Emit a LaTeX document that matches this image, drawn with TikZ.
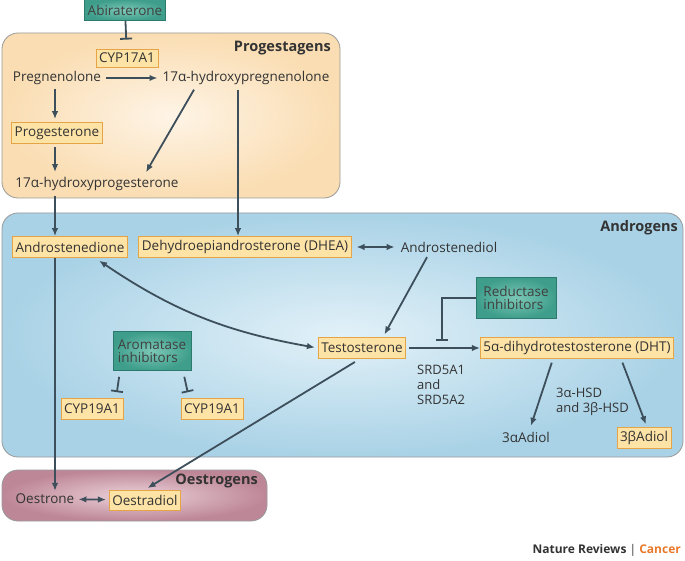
\documentclass[tikz,border=0pt]{standalone}
\usepackage{fontspec}
\setmainfont{Open Sans}
\usepackage{tikz}
\usetikzlibrary{arrows.meta,shapes,positioning}
\definecolor{arrowcol}{HTML}{3E4F5C}
\definecolor{textcol}{HTML}{333333}
\definecolor{boxfill}{HTML}{FDE3A6}
\definecolor{boxline}{HTML}{E5A547}
\definecolor{tealfill}{HTML}{3E9E8B}
\definecolor{teallight}{HTML}{7CC7B6}
\definecolor{tealline}{HTML}{2C7A6B}
\definecolor{progout}{HTML}{FADDB2}
\definecolor{progin}{HTML}{FEF4E6}
\definecolor{andout}{HTML}{A9D2E6}
\definecolor{andin}{HTML}{E2F1F8}
\definecolor{oesout}{HTML}{BE8798}
\definecolor{oesin}{HTML}{EBD2DA}
\definecolor{cancercol}{HTML}{E8792B}

\begin{document}
\begin{tikzpicture}[x=1pt,y=1pt,font=\fontsize{13.5}{15.5}\selectfont,text=textcol]
                    \tikzstyle{every node}+=[inner sep=3pt]
                    \tikzstyle{enzbox}=[draw=boxline, line width=0.8pt, fill=boxfill, minimum height=21pt]
                    \tikzstyle{tealbox}=[draw=tealline, line width=0.8pt, inner color=teallight, outer color=tealfill, text=black!75, minimum height=21pt]
                    \tikzstyle{conv}=[draw=arrowcol, line width=1.8pt, -{Latex[length=8pt,width=6.5pt]}]
                    \tikzstyle{conv2}=[draw=arrowcol, line width=1.8pt, {Latex[length=8pt,width=6.5pt]}-{Latex[length=8pt,width=6.5pt]}]
                    \tikzstyle{inhib}=[draw=arrowcol, line width=1.8pt, -{Bar[width=12pt]}]
                    \tikzstyle{grouplabel}=[font=\fontsize{14.5}{16}\selectfont\bfseries, text=black!80]
                    \useasboundingbox (0,0) rectangle (685,-561);
                    % groups
                    \shade [draw=black!40, line width=0.8pt, rounded corners=16pt, inner color=progin, outer color=progout] (2,-33) rectangle (340,-198);
                    \shade [draw=black!40, line width=0.8pt, rounded corners=16pt, inner color=andin, outer color=andout] (2,-213) rectangle (683,-457);
                    \shade [draw=black!40, line width=0.8pt, rounded corners=16pt, inner color=oesin, outer color=oesout] (2,-470) rectangle (267,-521);
                    \node [grouplabel, anchor=east] (proglab) at (334,-48) {Progestagens};
                    \node [grouplabel, anchor=east] (andlab) at (681,-228) {Androgens};
                    \node [grouplabel, anchor=east] (oeslab) at (261,-481) {Oestrogens};
                    % progestagens
                    \node [tealbox, minimum width=80pt] (abi) at (125,-10) {Abiraterone};
                    \node [enzbox, minimum height=18pt] (cyp17) at (127,-58) {CYP17A1};
                    \node (preg) at (57,-78) {Pregnenolone};
                    \node (hpreg) at (246,-78) {17α-hydroxypregnenolone};
                    \node [enzbox] (prog) at (57,-133) {Progesterone};
                    \node (hprog) at (97,-184) {17α-hydroxyprogesterone};
                    \draw [inhib, shorten >=9pt] (abi) -- (cyp17);
                    \draw [conv, shorten <=2pt, shorten >=2pt] (preg) -- (hpreg);
                    \draw [conv, shorten <=1pt, shorten >=3pt] ([xshift=-2pt]preg.south) -- ([xshift=-2pt]prog.north);
                    \draw [conv, shorten <=3pt, shorten >=2pt] ([xshift=-2pt]prog.south) -- ([xshift=-42pt]hprog.north);
                    \draw [conv, shorten <=2pt, shorten >=2pt] ([xshift=-51pt]hpreg.south) -- ([xshift=48pt]hprog.north);
                    % androgens
                    \node [enzbox] (andro) at (70,-247) {Androstenedione};
                    \node [enzbox] (dhea) at (245,-247) {Dehydroepiandrosterone (DHEA)};
                    \node (adiol) at (449,-247) {Androstenediol};
                    \node [enzbox] (testo) at (362,-348) {Testosterone};
                    \node [enzbox] (dht) at (577,-348) {5α-dihydrotestosterone (DHT)};
                    \node [tealbox, align=left, minimum width=80pt, minimum height=41pt] (red) at (516,-298) {Reductase\\[-2pt]inhibitors};
                    \node [tealbox, align=left, minimum width=78pt, minimum height=39pt] (arom) at (152,-351) {Aromatase\\[-2pt]inhibitors};
                    \node [enzbox] (cypa) at (92,-409) {CYP19A1};
                    \node [enzbox] (cypb) at (212,-409) {CYP19A1};
                    \node [anchor=north west, align=left, font=\fontsize{13}{15}\selectfont] (srd) at (414,-362) {SRD5A1\\and\\SRD5A2};
                    \node [anchor=north west, align=left, font=\fontsize{13}{15}\selectfont] (hsd) at (553,-385) {3α-HSD\\and 3β-HSD};
                    \node (aadiol) at (526,-437) {3αAdiol};
                    \node [enzbox] (badiol) at (644,-438) {3βAdiol};
                    \coordinate (redblk) at (442,-341);
                    \draw [conv, shorten <=2pt] ([xshift=-8pt]hpreg.south) -- ([xshift=-7pt]dhea.north);
                    \draw [conv, shorten <=2pt] ([xshift=-42pt]hprog.south) -- ([xshift=-15pt]andro.north);
                    \draw [conv2, shorten <=5pt, shorten >=3pt] (dhea) -- (adiol);
                    \draw [conv, shorten <=2pt, shorten >=3pt] ([xshift=-21pt]adiol.south) -- ([xshift=21pt]testo.north);
                    \draw [conv2, shorten <=5pt, shorten >=3pt] ([xshift=25pt]andro.south) to [bend right=12] (testo.west);
                    \draw [conv, shorten <=3pt] (testo) -- (dht);
                    \draw [inhib] (red.west) -| (redblk);
                    \draw [inhib, shorten <=6pt, shorten >=6pt] ([xshift=-32pt]arom.south) -- ([xshift=24pt]cypa.north);
                    \draw [inhib, shorten <=6pt, shorten >=6pt] ([xshift=31pt]arom.south) -- ([xshift=-23pt]cypb.north);
                    \draw [conv, shorten <=4pt, shorten >=3pt] ([xshift=-24pt]dht.south) -- ([xshift=4pt]aadiol.north);
                    \draw [conv, shorten <=4pt, shorten >=3pt] ([xshift=44pt]dht.south) -- ([xshift=3pt]badiol.north);
                    % oestrogens
                    \node (oestrone) at (45,-499) {Oestrone};
                    \node [enzbox, minimum height=20pt] (oestradiol) at (145,-500) {Oestradiol};
                    \draw [conv] ([xshift=-15pt]andro.south) -- ([xshift=10pt]oestrone.north);
                    \draw [conv, shorten <=6pt, shorten >=3pt] ([xshift=-2pt]testo.south) -- (oestradiol.north);
                    \draw [conv2, shorten <=1pt, shorten >=3pt] (oestrone) -- (oestradiol);
                    % credit
                    \node [anchor=east, font=\fontsize{12}{14}\selectfont\bfseries] (credit) at (684,-550) {Nature Reviews {\mdseries|} \textcolor{cancercol}{Cancer}};
                \end{tikzpicture}
\end{document}
